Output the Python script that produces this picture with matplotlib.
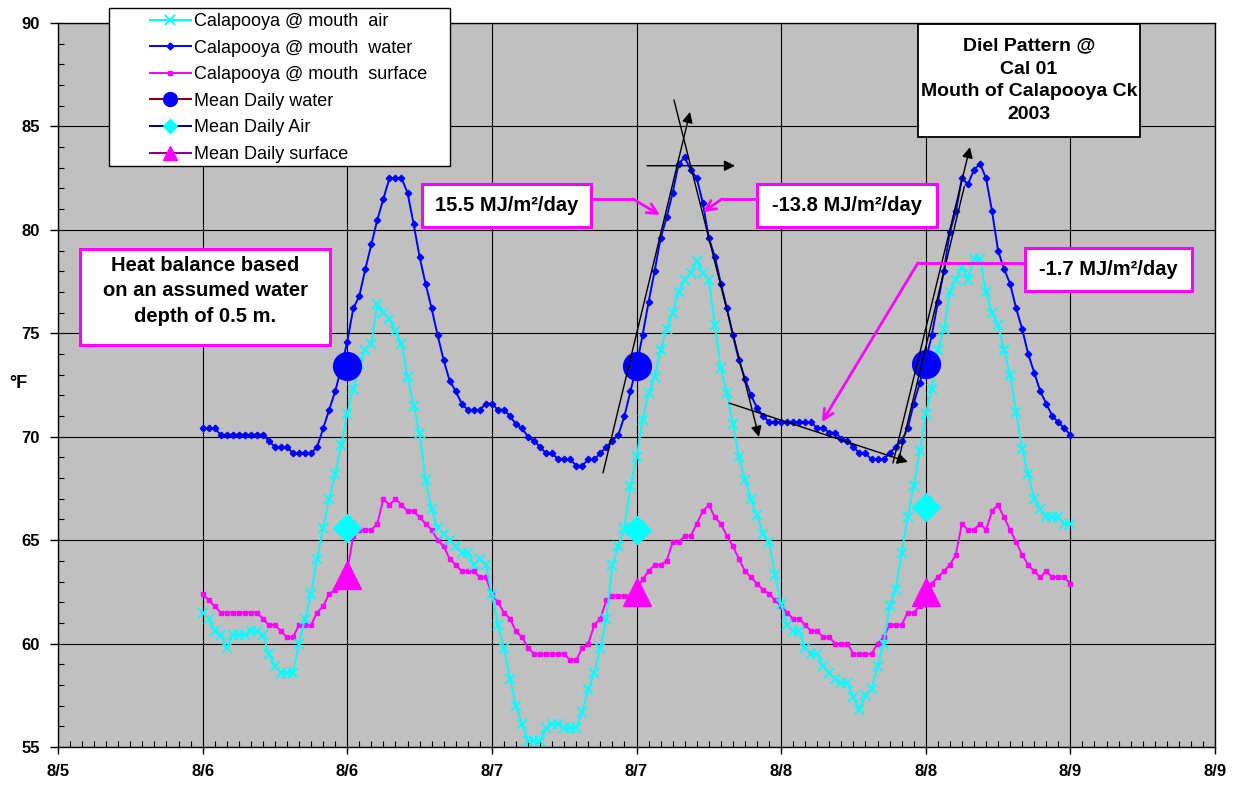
import numpy as np
import matplotlib
matplotlib.use('Agg')
import matplotlib.pyplot as plt
from matplotlib.lines import Line2D
from matplotlib.patches import Rectangle

plt.rcParams['font.family'] = ['Liberation Sans', 'DejaVu Sans']

# ---------------- data (half-hourly, starting 8/6 00:00) ----------------
hours = np.arange(145) * 0.5

water = [70.4, 70.4, 70.4, 70.1, 70.1, 70.1, 70.1, 70.1, 70.1, 70.1, 70.1, 69.8, 69.5, 69.5, 69.5, 69.2, 69.2, 69.2, 69.2, 69.5,
         70.4, 71.3, 72.2, 73.3, 74.6, 76.2, 76.8, 78.1, 79.3, 80.5, 81.5, 82.5, 82.5, 82.5, 81.8, 80.3, 78.7, 77.4, 76.2, 74.9,
         73.7, 72.7, 72.2, 71.6, 71.3, 71.3, 71.3, 71.6, 71.6, 71.3, 71.3, 71.0, 70.6, 70.4, 70.0, 69.8, 69.5, 69.2, 69.2, 68.9,
         68.9, 68.9, 68.6, 68.6, 68.9, 68.9, 69.2, 69.5, 69.8, 70.1, 71.0, 72.2, 73.4, 74.9, 76.5, 78.0, 79.6, 80.6, 81.8, 83.2,
         83.5, 82.9, 82.5, 81.3, 79.6, 78.7, 77.4, 76.2, 74.9, 73.7, 72.8, 72.0, 71.4, 71.0, 70.7, 70.7, 70.7, 70.7, 70.7, 70.7,
         70.7, 70.7, 70.4, 70.4, 70.2, 70.2, 69.9, 69.8, 69.5, 69.2, 69.2, 68.9, 68.9, 68.9, 69.2, 69.5, 69.8, 70.4, 71.6, 72.6,
         73.7, 74.9, 76.5, 78.0, 79.9, 80.9, 82.5, 82.2, 82.9, 83.2, 82.5, 80.9, 79.0, 78.1, 77.4, 76.2, 75.2, 74.0, 73.1, 72.2,
         71.6, 71.0, 70.7, 70.4, 70.1]

air = [61.5, 61.2, 60.6, 60.4, 59.8, 60.4, 60.4, 60.4, 60.6, 60.6, 60.4, 59.5, 58.9, 58.6, 58.6, 58.6, 60.0, 61.2, 62.4, 64.1,
       65.6, 67.0, 68.2, 69.6, 71.1, 72.3, 73.5, 74.2, 74.5, 76.4, 76.0, 75.7, 75.1, 74.5, 72.9, 71.5, 70.2, 67.9, 66.5, 65.6,
       65.3, 65.0, 64.7, 64.4, 64.4, 63.8, 64.1, 63.8, 62.4, 60.9, 59.8, 58.3, 57.0, 56.1, 55.3, 55.3, 55.3, 55.9, 56.1, 56.1,
       55.9, 55.9, 55.9, 56.7, 57.8, 58.6, 59.8, 61.2, 63.8, 64.7, 65.6, 67.6, 69.0, 70.8, 72.1, 72.9, 74.2, 75.2, 76.0, 77.0,
       77.6, 77.9, 78.5, 77.9, 77.6, 75.4, 73.3, 72.1, 70.6, 69.0, 67.9, 67.0, 66.2, 65.3, 64.9, 63.3, 61.9, 60.9, 60.6, 60.6,
       59.8, 59.5, 59.5, 58.9, 58.6, 58.3, 58.1, 58.1, 57.4, 56.8, 57.5, 57.8, 58.9, 60.0, 61.8, 62.6, 64.4, 66.1, 67.6, 69.3,
       71.1, 72.3, 74.2, 75.2, 77.0, 77.6, 78.2, 77.6, 78.6, 78.6, 77.0, 76.0, 75.4, 74.2, 73.0, 71.2, 69.4, 68.2, 67.0, 66.5,
       66.1, 66.1, 66.1, 65.8, 65.8]

surface = [62.4, 62.1, 61.8, 61.5, 61.5, 61.5, 61.5, 61.5, 61.5, 61.5, 61.2, 60.9, 60.9, 60.6, 60.3, 60.3, 60.9, 60.9, 60.9, 61.5,
           61.8, 62.4, 62.6, 62.9, 63.5, 65.2, 65.5, 65.5, 65.5, 65.8, 67.0, 66.7, 67.0, 66.7, 66.4, 66.4, 66.1, 65.8, 65.5, 65.0,
           64.7, 64.1, 63.8, 63.5, 63.5, 63.5, 63.2, 63.2, 62.4, 62.0, 61.5, 61.2, 60.6, 60.3, 59.8, 59.5, 59.5, 59.5, 59.5, 59.5,
           59.5, 59.2, 59.2, 59.8, 60.0, 60.9, 61.2, 62.1, 62.3, 62.3, 62.3, 62.3, 62.6, 63.1, 63.5, 63.8, 63.8, 64.0, 64.9, 64.9,
           65.2, 65.2, 65.8, 66.4, 66.7, 66.1, 65.8, 65.2, 64.7, 64.1, 63.5, 63.2, 62.9, 62.6, 62.4, 62.1, 61.8, 61.5, 61.2, 61.2,
           60.9, 60.6, 60.6, 60.3, 60.3, 60.0, 60.0, 60.0, 59.5, 59.5, 59.5, 59.5, 60.0, 60.3, 60.9, 60.9, 60.9, 61.5, 61.5, 61.8,
           62.3, 62.9, 63.2, 63.5, 63.8, 64.3, 65.8, 65.5, 65.5, 65.8, 65.5, 66.4, 66.7, 66.1, 65.5, 64.9, 64.3, 63.8, 63.5, 63.2,
           63.5, 63.2, 63.2, 63.2, 62.9]

mean_hours = [12, 36, 60]
mean_water = [73.4, 73.4, 73.5]
mean_air = [65.6, 65.5, 66.6]
mean_surface = [63.3, 62.5, 62.5]

x_tick_hours = [-12, 0, 12, 24, 36, 48, 60, 72, 84]
x_tick_labels = ['8/5', '8/6', '8/6', '8/7', '8/7', '8/8', '8/8', '8/9', '8/9']
y_ticks = [55, 60, 65, 70, 75, 80, 85, 90]

series_labels = ['Calapooya @ mouth  air', 'Calapooya @ mouth  water', 'Calapooya @ mouth  surface',
                 'Mean Daily water', 'Mean Daily Air', 'Mean Daily surface']

# ---------------- figure ----------------
W, H = 1235, 785
fig = plt.figure(figsize=(W / 100, H / 100), dpi=100)
ax = fig.add_axes([58 / W, 1 - 747 / H, (1215 - 58) / W, (747 - 23) / H])
ax.set_facecolor('#C0C0C0')
ax.set_xlim(-12, 84)
ax.set_ylim(55, 90)

ax.set_xticks(x_tick_hours)
ax.set_xticklabels(x_tick_labels, fontsize=12, fontweight='bold')
ax.set_xticks(np.arange(-12, 85, 1), minor=True)
ax.set_yticks(y_ticks)
ax.set_yticklabels([str(v) for v in y_ticks], fontsize=12, fontweight='bold')
ax.set_yticks(np.arange(55, 91, 1), minor=True)
ax.tick_params(axis='x', which='major', direction='out', length=5, width=1, pad=7)
ax.tick_params(axis='x', which='minor', direction='in', length=4, width=0.8)
ax.tick_params(axis='y', which='major', direction='out', length=6, width=1, pad=7)
ax.tick_params(axis='y', which='minor', direction='in', length=4, width=0.8)
ax.grid(True, which='major', color='black', lw=0.8)
ax.set_axisbelow(True)
for s in ax.spines.values():
    s.set_color('black')
    s.set_linewidth(1)

c_air, c_water, c_surf = '#00FFFF', '#0000FF', '#FF00FF'

ax.plot(hours, surface, color=c_surf, lw=1.4, marker='s', ms=3.3, zorder=3)
ax.plot(hours, air, color=c_air, lw=1.4, marker='x', ms=7, mew=1.3, zorder=4)
ax.plot(hours, water, color=c_water, lw=1.4, marker='D', ms=3.3, zorder=5)

ax.plot(mean_hours, mean_water, ls='none', marker='o', ms=20, color=c_water, zorder=6)
ax.plot(mean_hours, mean_air, ls='none', marker='D', ms=14, color=c_air, zorder=6)
ax.plot(mean_hours, mean_surface, ls='none', marker='^', ms=20, color=c_surf, zorder=6)

# ---------------- black slope arrows ----------------
black_arrows = [((33.22, 68.25), (40.44, 85.70), True),
                ((39.11, 86.28), (46.16, 69.99), True),
                ((36.87, 83.10), (44.17, 83.10), True),
                ((43.67, 71.63), (58.52, 68.78), True),
                ((57.28, 68.73), (63.67, 84.00), True),
                ((57.69, 68.73), (63.20, 82.10), False)]
for start, end, head in black_arrows:
    style = '-|>' if head else '-'
    ax.annotate('', xy=end, xytext=start,
                arrowprops=dict(arrowstyle=style, color='black', lw=1.0,
                                mutation_scale=16, shrinkA=0, shrinkB=0),
                zorder=7, annotation_clip=False)

# ---------------- magenta leader arrows ----------------
magenta_leaders = [[(32.22, 81.49), (35.71, 81.49), (37.95, 80.72)],
                   [(45.99, 81.49), (43.09, 81.49), (41.52, 80.86)],
                   [(68.23, 78.40), (59.35, 78.40), (51.39, 70.71)]]
for pts in magenta_leaders:
    ax.plot([pts[0][0], pts[1][0]], [pts[0][1], pts[1][1]], color=c_surf, lw=2, zorder=7,
            solid_capstyle='butt')
    ax.annotate('', xy=pts[2], xytext=pts[1],
                arrowprops=dict(arrowstyle='->', color=c_surf, lw=2,
                                mutation_scale=18, shrinkA=0, shrinkB=0),
                zorder=7)

# ---------------- text boxes ----------------
boxes = [(-10.17, 10.57, 74.43, 79.07, c_surf, 2.2,
          'Heat balance based\non an assumed water\ndepth of 0.5 m.', 14.5, 1.45, 0.3),
         (59.35, 77.77, 84.49, 89.95, 'black', 1.3,
          'Diel Pattern @\nCal 01\nMouth of Calapooya Ck\n2003', 14, 1.45, 0.0),
         (18.20, 32.22, 80.14, 82.22, c_surf, 2.2, '15.5 MJ/m²/day', 14.5, 1.2, 0.0),
         (45.99, 60.93, 80.14, 82.22, c_surf, 2.2, '-13.8 MJ/m²/day', 14.5, 1.2, 0.0),
         (68.23, 82.09, 77.04, 79.12, c_surf, 2.2, '-1.7 MJ/m²/day', 14.5, 1.2, 0.0)]
for x0, x1, y0, y1, ec, lw, txt, fs, lsp, dy in boxes:
    ax.add_patch(Rectangle((x0, y0), x1 - x0, y1 - y0, facecolor='white', edgecolor=ec,
                           lw=lw, zorder=8, clip_on=False))
    ax.text((x0 + x1) / 2, (y0 + y1) / 2 + dy, txt, ha='center', va='center', fontsize=fs,
            fontweight='bold', zorder=9, linespacing=lsp)

# ---------------- legend ----------------
fig.patches.append(Rectangle((109 / W, 1 - 166 / H), (450 - 109) / W, (166 - 8) / H,
                             transform=fig.transFigure, facecolor='white', edgecolor='black',
                             lw=1, zorder=10))
handles = [Line2D([], [], color=c_air, lw=1.4, marker='x', ms=7, mew=1.3),
           Line2D([], [], color=c_water, lw=1.4, marker='D', ms=3.5),
           Line2D([], [], color=c_surf, lw=1.4, marker='s', ms=3.5),
           Line2D([], [], color='#800000', lw=1.4, marker='o', ms=10, mfc=c_water, mec=c_water),
           Line2D([], [], color='#000080', lw=1.4, marker='D', ms=7.5, mfc=c_air, mec=c_air),
           Line2D([], [], color='#800080', lw=1.4, marker='^', ms=10, mfc=c_surf, mec=c_surf)]
leg = fig.legend(handles, series_labels, loc='upper left',
                 bbox_to_anchor=(150 / W, 1 - 13 / H), frameon=False, fontsize=13,
                 handlelength=2.25, handletextpad=0.2, labelspacing=0.53,
                 borderpad=0, borderaxespad=0, markerscale=1)
leg.set_zorder(11)

fig.text(18 / W, 1 - 383 / H, '°F', fontsize=13, fontweight='bold', ha='center', va='center')

fig.savefig('out.png', dpi=100, facecolor='white')
